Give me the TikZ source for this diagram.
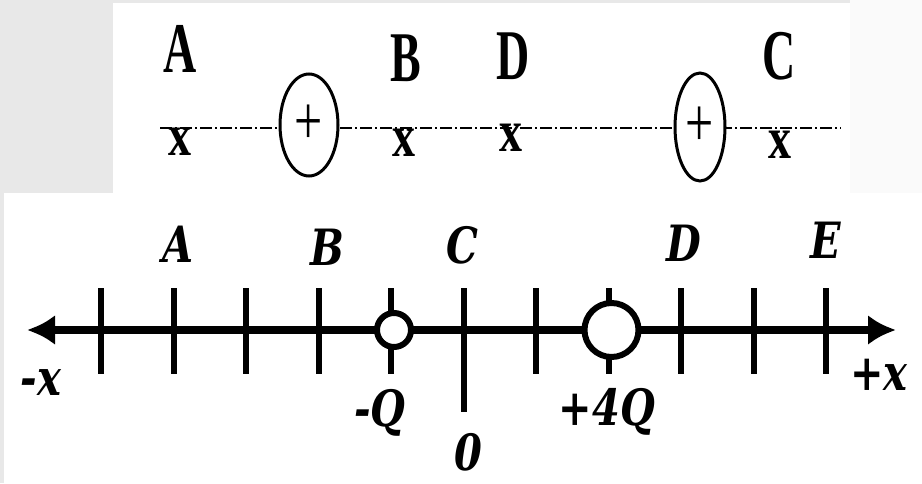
\documentclass[tikz,border=0pt]{standalone}
\usepackage{fontspec}
\setmainfont{Liberation Serif}
\newfontfamily\botfamily{DejaVu Serif}
\usepackage{graphicx}
\usetikzlibrary{arrows.meta, shapes.geometric}

\newcommand{\toptxt}[1]{\scalebox{1}[1.55]{#1}}
\newcommand{\bottxt}[1]{\scalebox{1}[1.25]{#1}}

\begin{document}
\begin{tikzpicture}[x=1pt, y=-1pt,
    toplbl/.style={inner sep=0pt, font=\fontsize{46}{46}\selectfont\bfseries},
    crossmark/.style={inner sep=0pt, font=\fontsize{46}{46}\selectfont\bfseries},
    botlbl/.style={inner sep=0pt, font=\fontsize{40}{40}\selectfont\botfamily\bfseries\itshape},
    charge/.style={draw, ellipse, fill=white, line width=3pt, inner sep=0pt, font=\fontsize{50}{50}\selectfont},
    centerline/.style={line width=2pt, dash pattern=on 12pt off 3pt on 2pt off 3pt},
    axis/.style={line width=8pt, {Latex[length=28pt,width=30pt]}-{Latex[length=28pt,width=30pt]}},
    tickmark/.style={line width=6pt},
    ball/.style={draw, circle, fill=white, line width=6pt, inner sep=0pt}
  ]
  \useasboundingbox (0,0) rectangle (922,483);
  % background and the two white panels
  \fill[black!9] (0,0) rectangle (922,483);
  \fill[black!2] (850,0) rectangle (922,193);
  \fill[white] (113,3) rectangle (850,193);
  \fill[white] (4,193) rectangle (922,483);

  % upper figure
  \coordinate (lineL) at (160,128);
  \coordinate (lineR) at (841,128);
  \draw[centerline] (lineL) -- (lineR);

  \node[charge, minimum width=58pt, minimum height=102pt] (q1) at (309,125) {\scalebox{1}[1.4]{+}};
  \node[charge, minimum width=50pt, minimum height=108pt] (q2) at (700,127) {\scalebox{1}[1.4]{+}};

  \node[toplbl] (ptA) at (180,49) {\toptxt{A}};
  \node[toplbl] (ptB) at (406,58) {\toptxt{B}};
  \node[toplbl] (ptD) at (513,56) {\toptxt{D}};
  \node[toplbl] (ptC) at (779,56) {\toptxt{C}};

  \node[crossmark] (xA) at (180,142) {\scalebox{1}[1.3]{x}};
  \node[crossmark] (xB) at (404,143) {\scalebox{1}[1.3]{x}};
  \node[crossmark] (xD) at (511,138) {\scalebox{1}[1.3]{x}};
  \node[crossmark] (xC) at (780,145) {\scalebox{1}[1.3]{x}};

  % lower figure: number line
  \coordinate (xneg) at (27,330);
  \coordinate (xpos) at (896,330);
  \draw[axis] (xneg) -- (xpos);

  \foreach \i in {0,...,10}
    \coordinate (t\i) at (101+72.5*\i,330);
  \foreach \i in {0,1,2,3,4,6,7,8,9,10}
    \draw[tickmark] (t\i) ++(0,-42) -- ++(0,86);
  \draw[tickmark] (t5) ++(0,-42) -- ++(0,124);

  \node[ball, minimum size=34pt] (negQ) at ([xshift=3pt]t4) {};
  \node[ball, minimum size=54pt] (posQ) at ([xshift=3pt]t7) {};

  \node[botlbl] (A) at (178,244) {\bottxt{A}};
  \node[botlbl] (B) at (327,247) {\bottxt{B}};
  \node[botlbl] (C) at (462,245) {\bottxt{C}};
  \node[botlbl] (D) at (684,243) {\bottxt{D}};
  \node[botlbl] (E) at (826,240) {\bottxt{E}};

  \node[botlbl] (negx) at (41,383) {\bottxt{-x}};
  \node[botlbl] (posx) at (879,375) {\bottxt{+x}};
  \node[botlbl] (negQlbl) at (380,413) {\bottxt{-Q}};
  \node[botlbl] (posQlbl) at (607,412) {\bottxt{+4Q}};
  \node[botlbl] (zero) at (468,452) {\bottxt{0}};
\end{tikzpicture}
\end{document}
